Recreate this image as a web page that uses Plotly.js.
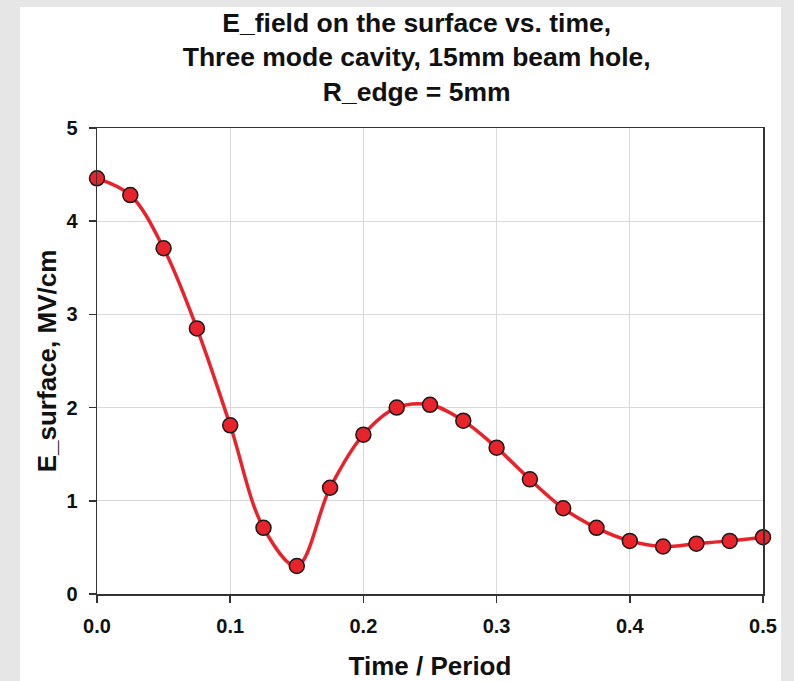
<!DOCTYPE html>
<html>
<head>
<meta charset="utf-8">
<script src="https://cdn.plot.ly/plotly-3.0.1.min.js"></script>
<style>
html, body { margin: 0; padding: 0; background: #e6e6e6; }
#chart { width: 794px; height: 681px; }
</style>
</head>
<body>
<div id="chart"></div>
<script>
const timePeriod = [0.0, 0.025, 0.05, 0.075, 0.1, 0.125, 0.15, 0.175, 0.2, 0.225, 0.25,
                    0.275, 0.3, 0.325, 0.35, 0.375, 0.4, 0.425, 0.45, 0.475, 0.5];
const eSurface = [4.46, 4.28, 3.71, 2.85, 1.81, 0.71, 0.30, 1.14, 1.71, 2.00, 2.03,
                  1.86, 1.57, 1.23, 0.92, 0.71, 0.57, 0.51, 0.54, 0.57, 0.61];
const xTicks = [0.0, 0.1, 0.2, 0.3, 0.4, 0.5];
const xTickLabels = ['0.0', '0.1', '0.2', '0.3', '0.4', '0.5'];
const yTicks = [0, 1, 2, 3, 4, 5];

const FONT = 'Liberation Sans, Arial, sans-serif';

const trace = {
  x: timePeriod,
  y: eSurface,
  type: 'scatter',
  mode: 'lines+markers',
  line: { color: '#e8232b', width: 3.5, shape: 'spline', smoothing: 1 },
  marker: { color: '#e8232b', size: 15, line: { color: '#1a1a1a', width: 1.5 } },
  cliponaxis: false,
  hoverinfo: 'x+y'
};

const layout = {
  width: 794,
  height: 681,
  paper_bgcolor: '#e6e6e6',
  plot_bgcolor: '#ffffff',
  margin: { l: 97, r: 31, t: 128, b: 87 },
  showlegend: false,
  title: {
    text: '<b>E_field on the surface vs. time,<br>Three mode cavity, 15mm beam hole,<br>R_edge = 5mm</b>',
    font: { family: FONT, size: 26.5, color: '#111111' },
    x: 0.48, xref: 'paper', xanchor: 'center',
    y: 0.953, yref: 'container', yanchor: 'top'
  },
  xaxis: {
    range: [0, 0.5],
    tickvals: xTicks,
    ticktext: xTickLabels,
    ticks: 'outside', ticklen: 7, tickwidth: 1.5, tickcolor: '#333333',
    ticklabelstandoff: 6,
    showline: true, linecolor: '#333333', linewidth: 1.5, mirror: true,
    showgrid: true, gridcolor: '#d9d9d9', gridwidth: 1,
    zeroline: false,
    tickfont: { family: FONT, size: 20, color: '#111111', weight: 'bold' },
    title: { text: '<b>Time / Period</b>', font: { family: FONT, size: 26, color: '#111111' }, standoff: 25 }
  },
  yaxis: {
    range: [0, 5],
    tickvals: yTicks,
    ticks: 'outside', ticklen: 7, tickwidth: 1.5, tickcolor: '#333333',
    ticklabelstandoff: 7,
    showline: true, linecolor: '#333333', linewidth: 1.5, mirror: true,
    showgrid: true, gridcolor: '#d9d9d9', gridwidth: 1,
    zeroline: false,
    tickfont: { family: FONT, size: 20, color: '#111111', weight: 'bold' },
    title: { text: '<b>E_surface, MV/cm</b>', font: { family: FONT, size: 26, color: '#111111' }, standoff: 2 }
  },
  shapes: [{
    type: 'rect', xref: 'paper', yref: 'paper', layer: 'below',
    x0: -0.1156, x1: 1.027, y0: -0.19, y1: 1.2597,
    fillcolor: '#ffffff', line: { width: 0 }
  }]
};

Plotly.newPlot('chart', [trace], layout, { displayModeBar: false, staticPlot: true });
</script>
</body>
</html>
